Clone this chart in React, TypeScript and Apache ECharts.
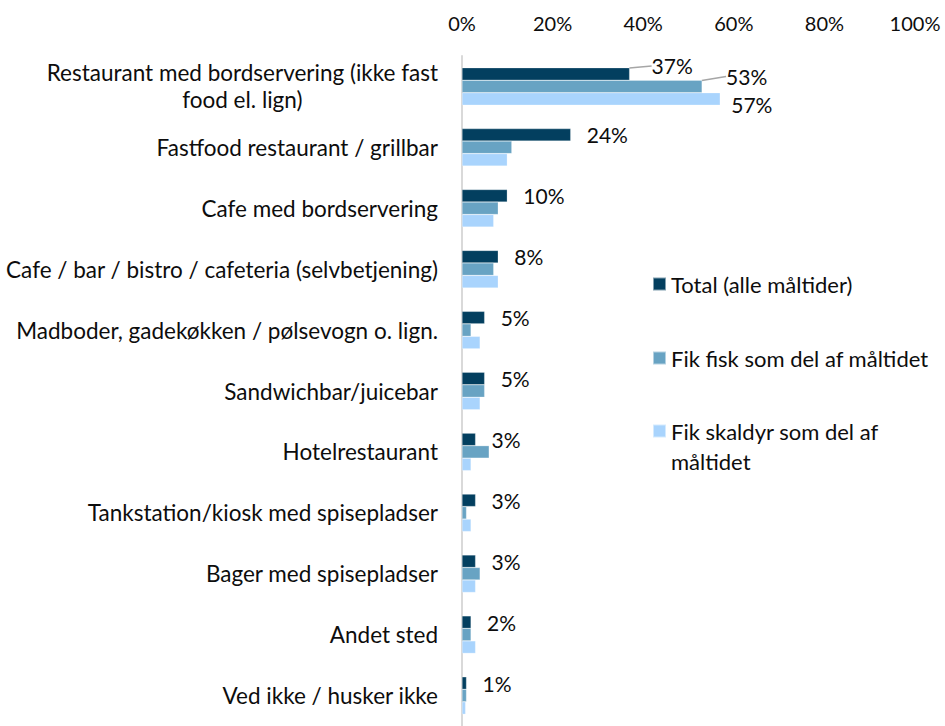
import React, { useEffect, useRef } from "react";
import * as echarts from "echarts";

const categories = [
  "Restaurant med bordservering (ikke fast food el. lign)",
  "Fastfood restaurant / grillbar",
  "Cafe med bordservering",
  "Cafe / bar / bistro / cafeteria (selvbetjening)",
  "Madboder, gadekøkken / pølsevogn o. lign.",
  "Sandwichbar/juicebar",
  "Hotelrestaurant",
  "Tankstation/kiosk med spisepladser",
  "Bager med spisepladser",
  "Andet sted",
  "Ved ikke / husker ikke",
];

const seriesNames = [
  "Total (alle måltider)",
  "Fik fisk som del af måltidet",
  "Fik skaldyr som del af måltidet",
];

const totalValues = [37, 24, 10, 8, 5, 5, 3, 3, 3, 2, 1];
const fishValues = [53, 11, 8, 7, 2, 5, 6, 1, 4, 2, 1];
const shellfishValues = [57, 10, 7, 8, 4, 4, 2, 2, 3, 3, 0.8];

const xTicks = [0, 20, 40, 60, 80, 100];

const colors = ["#033f5f", "#68a3c3", "#a9d4fd"];
const FONT = "Lato";
const TEXT = "#0d0d0d";

export default function App() {
  const ref = useRef<HTMLDivElement>(null);

  useEffect(() => {
    if (!ref.current) return;
    const chart = echarts.init(ref.current, null, { renderer: "svg" });

    const labelShift: Record<number, { dx: number; dy: number }> = {
      0: { dx: 6, dy: -8 },
      1: { dx: 8, dy: -10 },
      2: { dx: -5, dy: 6 },
    };

    const makeSeries = (idx: number, values: number[]) => ({
      type: "bar",
      name: seriesNames[idx],
      barWidth: 12.5,
      barGap: "0%",
      itemStyle: { color: colors[idx], borderColor: "rgba(255,255,255,0.5)", borderWidth: 0.5 },
      data: values.map((v, i) => ({
        value: v,
        label: { show: idx === 0 || i === 0 },
        labelLine: { show: idx < 2 && i === 0 },
      })),
      label: {
        show: false,
        position: "right",
        distance: 16,
        formatter: (p: any) => `${Math.round(p.value)}%`,
        fontFamily: FONT,
        fontSize: 21,
        color: TEXT,
      },
      labelLine: {
        show: false,
        lineStyle: { color: "#a6a6a6", width: 1.5 },
      },
      labelLayout: (p: any) => (p.dataIndex === 0 ? labelShift[idx] : {}),
    });

    const legendBase = {
      orient: "vertical",
      left: 652,
      padding: 0,
      itemWidth: 13,
      itemHeight: 13,
      icon: "rect",
      selectedMode: false,
      textStyle: { fontFamily: FONT, fontSize: 22, color: TEXT, lineHeight: 30 },
    };

    chart.setOption({
      animation: false,
      legend: [
        { ...legendBase, top: 269, data: [seriesNames[0]] },
        { ...legendBase, top: 343, data: [seriesNames[1]] },
        {
          ...legendBase,
          top: 386,
          data: [seriesNames[2]],
          formatter: () => "\nFik skaldyr som del af\nmåltidet",
        },
      ],
      grid: { left: 462, width: 453, top: 56, height: 675 },
      xAxis: {
        type: "value",
        position: "top",
        min: xTicks[0],
        max: xTicks[xTicks.length - 1],
        interval: 20,
        axisLine: { show: false },
        axisTick: { show: false },
        splitLine: { show: false },
        axisLabel: {
          formatter: "{value}%",
          fontFamily: FONT,
          fontSize: 20,
          color: TEXT,
          margin: 23,
        },
      },
      yAxis: {
        type: "category",
        inverse: true,
        data: categories,
        axisLine: { show: true, lineStyle: { color: "#d9d9d9", width: 2 } },
        axisTick: { show: false },
        axisLabel: {
          margin: 24,
          fontFamily: FONT,
          fontSize: 22.5,
          color: TEXT,
          lineHeight: 27,
          formatter: (v: string, i: number) =>
            i === 0
              ? "{w|Restaurant med bordservering (ikke fast}\n{w|food el. lign)}"
              : v,
          rich: {
            w: { align: "center", fontFamily: FONT, fontSize: 22.5, color: TEXT, lineHeight: 27 },
          },
        },
      },
      series: [
        makeSeries(0, totalValues),
        makeSeries(1, fishValues),
        makeSeries(2, shellfishValues),
      ],
    });

    return () => chart.dispose();
  }, []);

  return (
    <div
      ref={ref}
      style={{ position: "absolute", left: 0, top: 0, width: 945, height: 726 }}
    />
  );
}
